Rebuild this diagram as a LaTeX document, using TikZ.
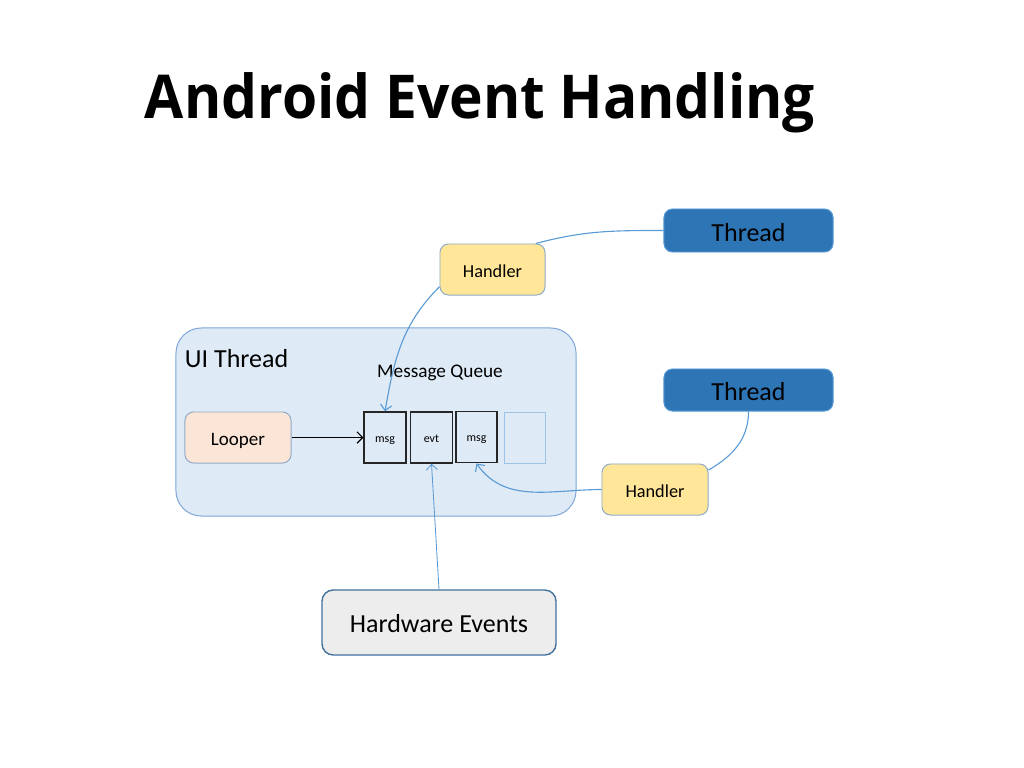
\documentclass[tikz,border=0pt]{standalone}
\usepackage{fontspec}
\setmainfont{Carlito}
\newfontfamily\titlefont{Open Sans}[FakeStretch=0.94]
\usepackage{tikz}
\usetikzlibrary{calc,arrows.meta}
\definecolor{uifill}{RGB}{222,234,246}
\definecolor{uiline}{RGB}{125,166,214}
\definecolor{freeline}{RGB}{157,195,230}
\definecolor{looperfill}{RGB}{251,229,214}
\definecolor{handlerfill}{RGB}{255,230,153}
\definecolor{handlerline}{RGB}{143,170,200}
\definecolor{threadfill}{RGB}{46,117,182}
\definecolor{threadline}{RGB}{91,155,213}
\definecolor{hwfill}{RGB}{237,237,237}
\definecolor{hwline}{RGB}{65,113,156}
\definecolor{wire}{RGB}{91,155,213}
\tikzset{
	box/.style={draw, rounded corners=6pt, inner sep=0pt, line width=0.7pt, text=black, text depth=0pt},
	bigtext/.style={font=\fontsize{18.5}{22}\selectfont, text height=15pt},
	smalltext/.style={font=\fontsize{13}{16}\selectfont, text height=11.2pt},
	slot/.style={draw=black!85, inner sep=0pt, line width=1pt, minimum width=1.04cm, minimum height=1.275cm, text height=6.5pt, text depth=0pt, font=\fontsize{8.5}{10}\selectfont},
	wirearrow/.style={draw=wire, line width=0.8pt, -{Straight Barb[length=4pt, width=8pt]}},
	wireline/.style={draw=wire, line width=0.8pt}
}
\begin{document}
\begin{tikzpicture}[x=0.025cm, y=-0.025cm]
			%%%%% START %%%%%
			\useasboundingbox (0, 0) rectangle (1024, 768);
			
			\node[font=\titlefont\bfseries\fontsize{43}{50}\selectfont] (title) at (480, 103) {Android Event Handling};
			
			\node[box, rounded corners=18pt, fill=uifill, draw=uiline, minimum width=10cm, minimum height=4.7cm] (ui) at (376, 422) {};
			\node[anchor=west, font=\fontsize{18.5}{22}\selectfont] (uilabel) at (180, 359) {UI Thread};
			\node[font=\fontsize{13.7}{17}\selectfont] (queue) at (440, 373) {Message Queue};
			
			\node[box, smalltext, fill=looperfill, draw=handlerline, minimum width=2.65cm, minimum height=1.275cm, font=\fontsize{13.5}{16}\selectfont, text height=11.5pt] (looper) at (238, 437.5) {Looper};
			
			\node[slot] (msga) at (385, 437.5) {msg};
			\node[slot] (evt) at (431.5, 437.5) {evt};
			\node[slot, line width=1.4pt] (msgb) at (476.5, 437) {msg};
			\node[slot, draw=freeline, line width=0.7pt] (free) at (525, 437.5) {};
			
			\node[box, smalltext, fill=handlerfill, draw=handlerline, minimum width=2.625cm, minimum height=1.275cm] (handlera) at (492.5, 269.5) {Handler};
			\node[box, bigtext, fill=threadfill, draw=threadline, minimum width=4.225cm, minimum height=1.075cm] (threada) at (748.5, 230.5) {Thread};
			
			\node[box, bigtext, fill=threadfill, draw=threadline, minimum width=4.225cm, minimum height=1.05cm] (threadb) at (748.5, 390) {Thread};
			\node[box, smalltext, fill=handlerfill, draw=handlerline, minimum width=2.65cm, minimum height=1.275cm] (handlerb) at (655, 489.5) {Handler};
			
			\node[box, bigtext, rounded corners=8pt, fill=hwfill, draw=hwline, line width=1pt, minimum width=5.85cm, minimum height=1.625cm, text height=14pt] (hw) at (439, 622.5) {Hardware Events};
			
			\draw[line width=0.8pt, -{Straight Barb[length=4pt, width=8pt]}] (looper.east) -- (msga.west);
			
			\draw[wireline] (threada.west) to[out=180, in=15] (handlera.31);
			\draw[wirearrow] (handlera.198) to[out=225, in=80] (msga.north);
			
			\draw[wireline] (threadb.south) to[out=-90, in=30] (handlerb.20);
			\draw[wirearrow] (handlerb.west) to[out=180, in=-55] (msgb.south);
			
			\draw[wirearrow, line width=0.6pt] (hw.north) -- (evt.south);
			%%%%% END %%%%%
		\end{tikzpicture}
\end{document}
